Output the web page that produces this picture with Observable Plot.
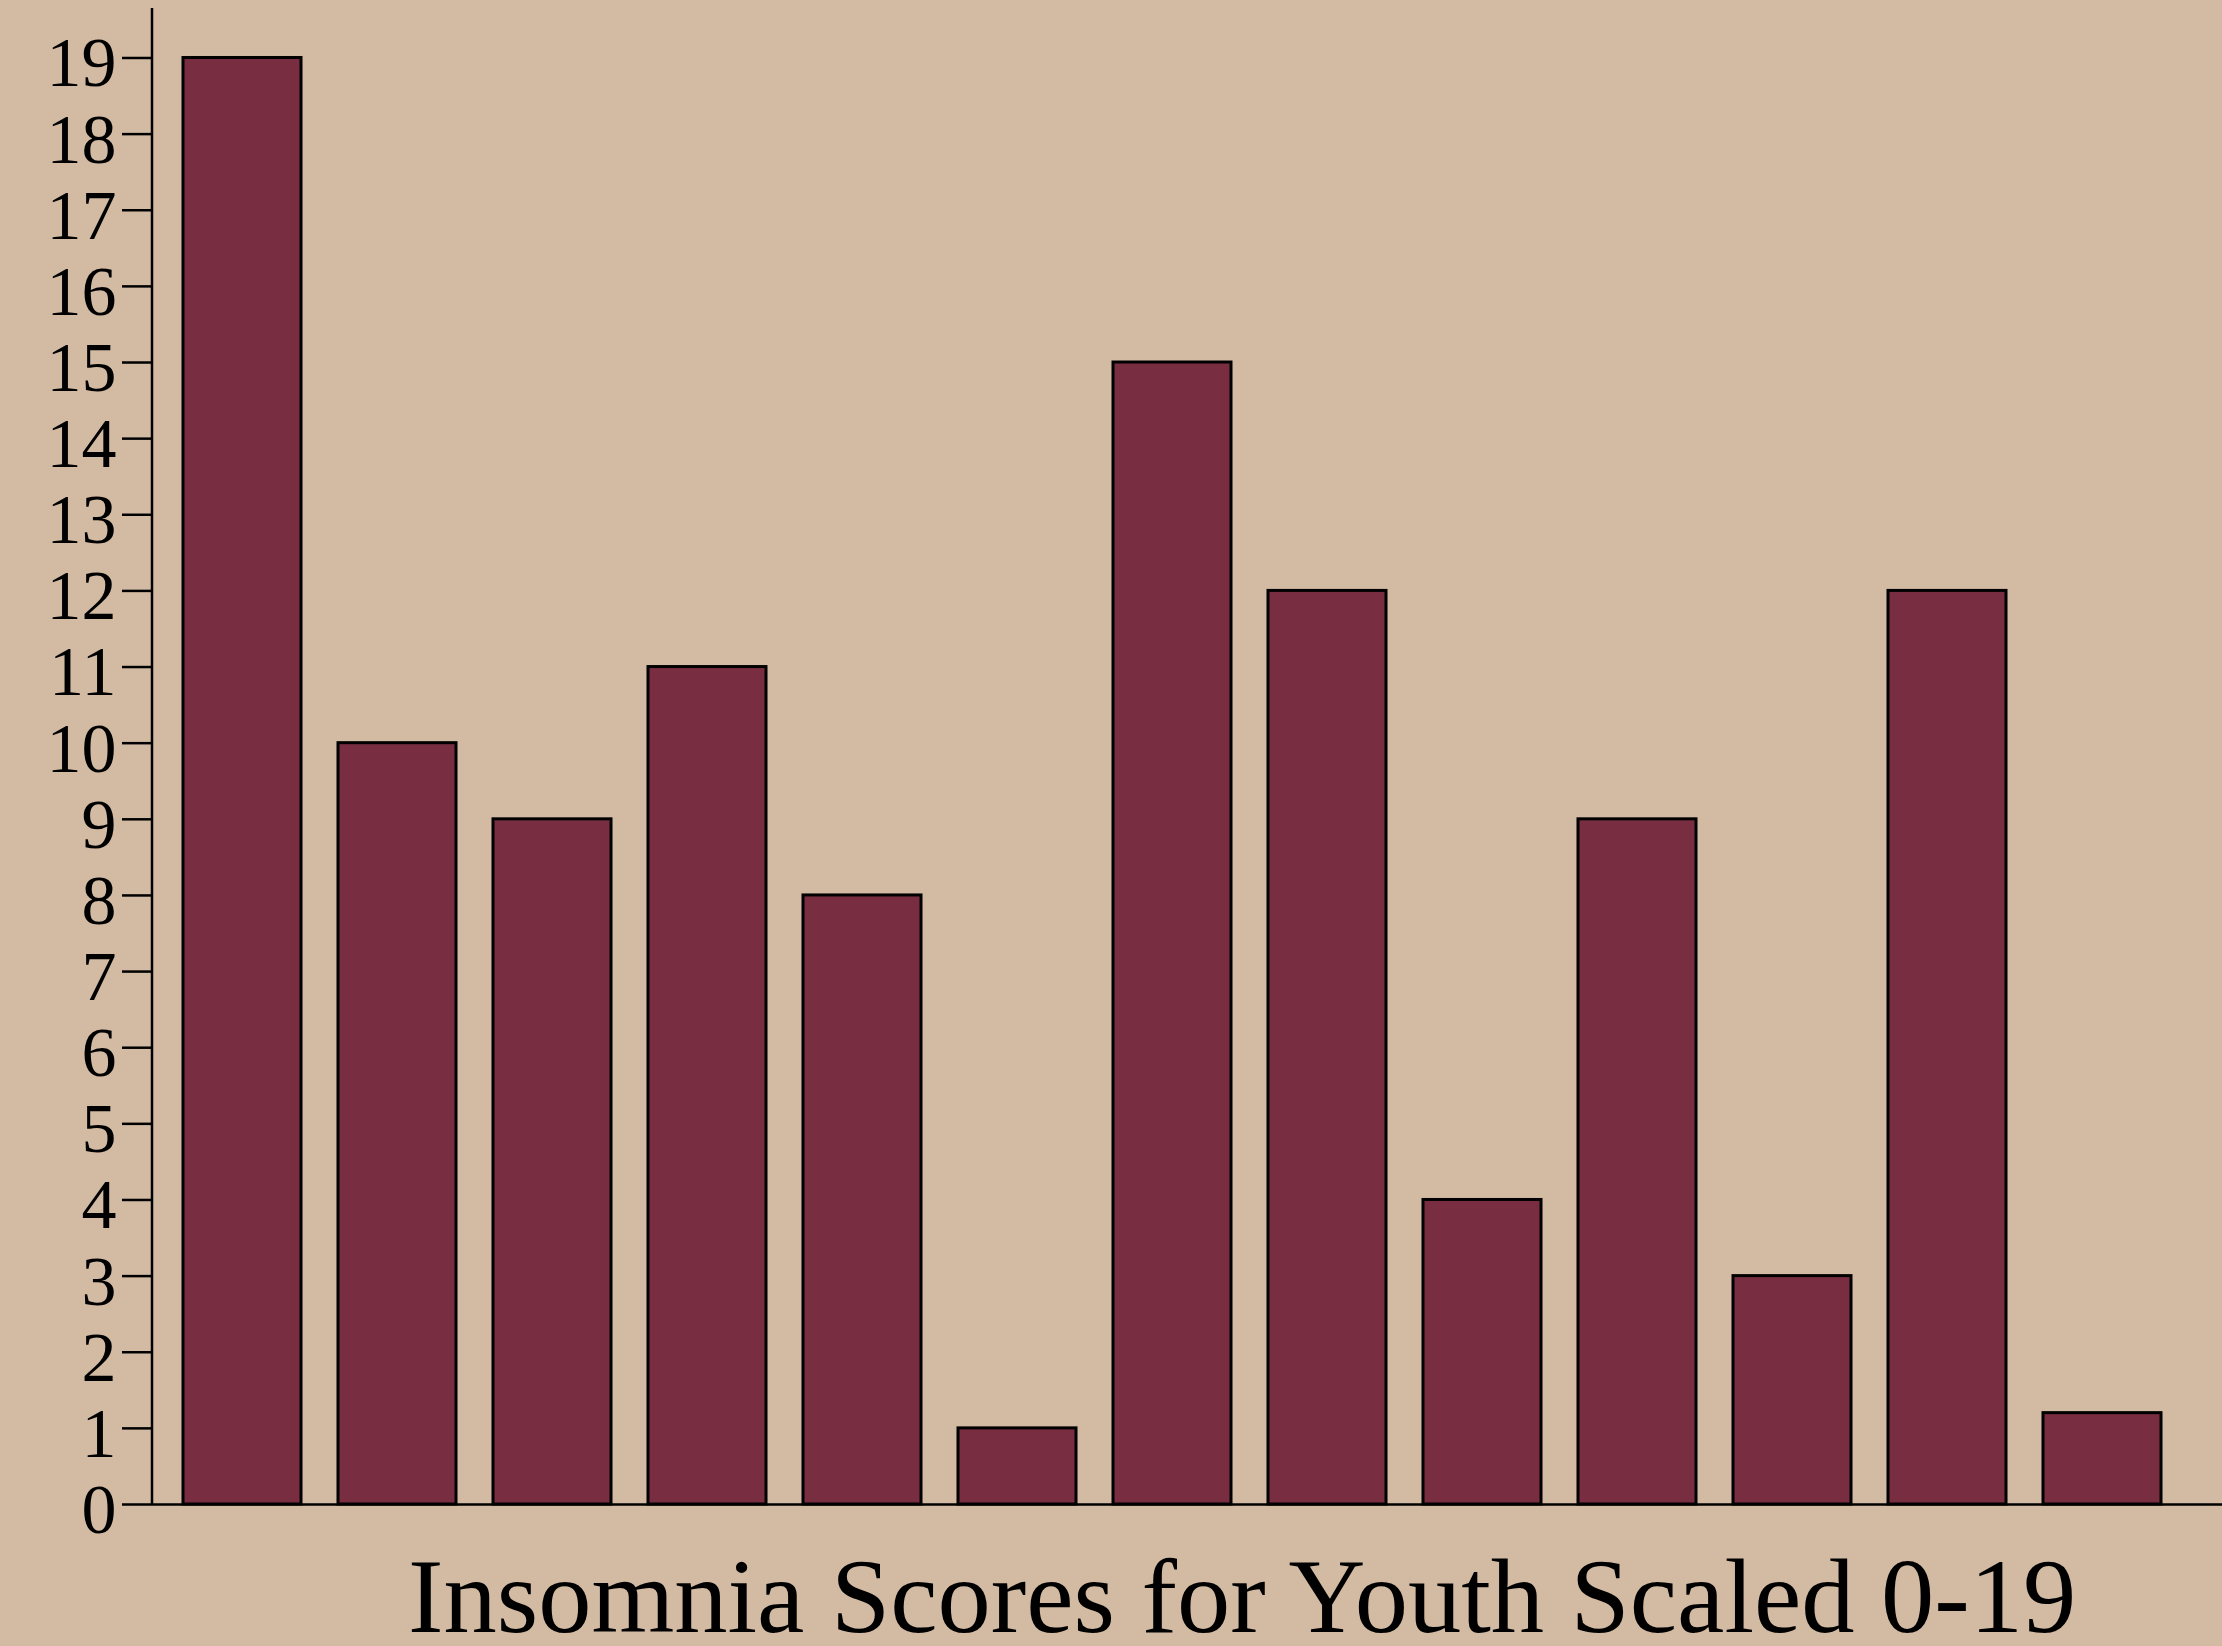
<!DOCTYPE html>
<html>
<head>
<meta charset="utf-8">
<script src="https://cdn.jsdelivr.net/npm/d3@7"></script>
<script src="https://cdn.jsdelivr.net/npm/@observablehq/plot@0.6"></script>
<style>
  html, body { margin: 0; padding: 0; background: #D3BBA3; width: 2222px; height: 1646px; overflow: hidden; }
  #chart { position: absolute; left: 0; top: 0; }
  #title { position: absolute; left: 408px; top: 1556px; height: 80px; font-family: "Liberation Serif", "Times New Roman", serif; font-size: 106.5px; line-height: 80px; color: #000; white-space: nowrap; }
</style>
</head>
<body>
<div id="chart"></div>
<div id="title"></div>
<script>
const categories = ["1", "2", "3", "4", "5", "6", "7", "8", "9", "10", "11", "12", "13"];
const scores = [19, 10, 9, 11, 8, 1, 15, 12, 4, 9, 3, 12, 1.2];
const yTicks = [0, 1, 2, 3, 4, 5, 6, 7, 8, 9, 10, 11, 12, 13, 14, 15, 16, 17, 18, 19];
const titleText = "Insomnia Scores for Youth Scaled 0-19";
const yTop = 19.65;

const data = categories.map((c, i) => ({cat: c, value: scores[i]}));

const yAxisLine = (index, scales, values, dims) => {
  const g = d3.create("svg:line")
    .attr("x1", dims.marginLeft).attr("x2", dims.marginLeft)
    .attr("y1", scales.y(yTop)).attr("y2", scales.y(0))
    .attr("stroke", "black").attr("stroke-width", 2.5);
  return g.node();
};

const chart = Plot.plot({
  width: 2222,
  height: 1546,
  marginLeft: 152,
  marginRight: 0,
  marginTop: 8,
  marginBottom: 42,
  style: {background: "#D3BBA3", fontFamily: "Liberation Serif, Times New Roman, serif", fontSize: "70px", color: "black", overflow: "visible"},
  x: {domain: categories, range: [179, 2164], paddingInner: 0.24, paddingOuter: 0, axis: null},
  y: {domain: [0, yTop], axis: null},
  marks: [
    Plot.barY(data, {x: "cat", y: "value", fill: "#782D40", stroke: "black", strokeWidth: 3}),
    Plot.ruleY([0], {stroke: "black", strokeWidth: 2.5}),
    Plot.axisY({ticks: yTicks, tickSize: 30, strokeWidth: 2.5, fill: "none", label: null}),
    Plot.axisY({ticks: yTicks, tickSize: 0, tickPadding: 36, fontSize: 70, dy: 6, tickFormat: d => String(d), label: null}),
    yAxisLine
  ]
});
document.getElementById("chart").appendChild(chart);
document.getElementById("title").textContent = titleText;
</script>
</body>
</html>
